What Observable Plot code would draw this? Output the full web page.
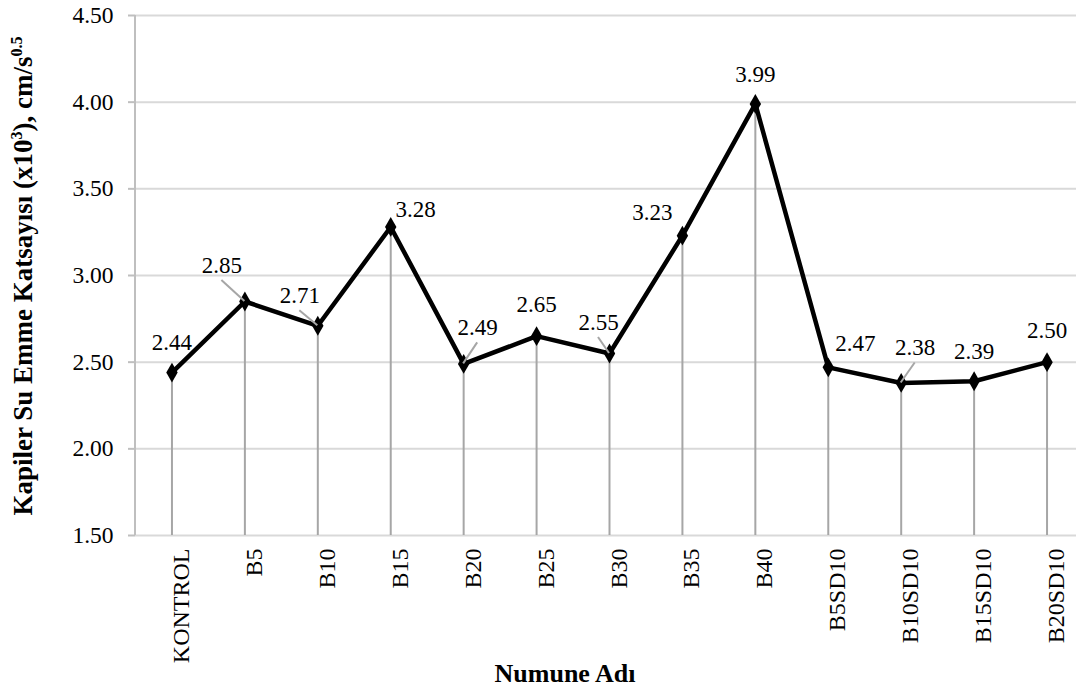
<!DOCTYPE html>
<html>
<head>
<meta charset="utf-8">
<script src="https://cdn.jsdelivr.net/npm/d3@7"></script>
<script src="https://cdn.jsdelivr.net/npm/@observablehq/plot@0.6"></script>
<style>
  html, body { margin: 0; padding: 0; background: #fff; }
</style>
</head>
<body>
<div id="chart"></div>
<script>
// Data
const categories = ["KONTROL", "B5", "B10", "B15", "B20", "B25", "B30", "B35", "B40", "B5SD10", "B10SD10", "B15SD10", "B20SD10"];
const values = [2.44, 2.85, 2.71, 3.28, 2.49, 2.65, 2.55, 3.23, 3.99, 2.47, 2.38, 2.39, 2.50];
const yTicks = [1.5, 2.0, 2.5, 3.0, 3.5, 4.0, 4.5];

// Label placement (annotation styling, in pixels relative to each point)
const labelDx = [0, -23, -18, 25, 14, 0, -11, -30, 0, 27, 14, 0, 0];
const labelDy = [-30, -36, -30, -17, -36, -32, -31, -23, -29, -24, -35, -30, -32];
const hasLeader = [false, true, true, false, true, false, true, false, false, false, true, false, false];

const data = categories.map((c, i) => ({cat: c, value: values[i], i}));

const font = "'Liberation Serif', 'Times New Roman', serif";

const plot = Plot.plot({
  width: 1076,
  height: 690,
  marginLeft: 135,
  marginRight: 0,
  marginTop: 15,
  marginBottom: 155,
  style: {fontFamily: font, fontSize: "24px", background: "#fff", color: "#000"},
  x: {type: "point", domain: categories, range: [135, 1083], padding: 0.5, round: false, axis: null},
  y: {domain: [1.5, 4.5], axis: null},
  marks: [
    Plot.ruleY(yTicks, {stroke: "#d9d9d9", strokeWidth: 2}),
    Plot.ruleX(data, {x: "cat", y1: 1.5, y2: "value", stroke: "#a6a6a6", strokeWidth: 2}),
    Plot.lineY(data, {x: "cat", y: "value", stroke: "#000", strokeWidth: 4.5, strokeLinejoin: "miter"}),
    Plot.dot(data, {x: "cat", y: "value", symbol: "diamond", r: 6, fill: "#000", stroke: null}),
    Plot.text(data, {x: "cat", y: "value", text: d => d.value.toFixed(2), fontSize: 23, fill: "#000", className: "vlabel"}),
    Plot.axisY({ticks: yTicks, tickFormat: d => d.toFixed(2), tickSize: 7, tickPadding: 15, stroke: "#bfbfbf", strokeWidth: 2, fontSize: 23.5, label: null}),
    Plot.axisX({rotate: -90, tickSize: 0, tickPadding: 13, textAnchor: "end", fontSize: 24, label: null})
  ]
});

document.getElementById("chart").appendChild(plot);

const svg = d3.select(plot);
const xs = plot.scale("x");
const ys = plot.scale("y");

// Y axis line
svg.append("line")
  .attr("x1", 135).attr("x2", 135)
  .attr("y1", ys.apply(4.5)).attr("y2", ys.apply(1.5))
  .attr("stroke", "#bfbfbf").attr("stroke-width", 2);

// Offset value labels and draw leader lines
svg.selectAll(".vlabel text").each(function(_, k) {
  const el = d3.select(this);
  const t = el.attr("transform") || "";
  el.attr("transform", `translate(${labelDx[k]},${labelDy[k]}) ${t}`);
});
const leaderG = svg.insert("g", ".vlabel");
data.forEach((d, i) => {
  if (!hasLeader[i]) return;
  const px = xs.apply(d.cat), py = ys.apply(d.value);
  const lx = px + labelDx[i], ly = py + labelDy[i] + 15;
  leaderG.append("line")
    .attr("x1", lx).attr("y1", ly).attr("x2", px).attr("y2", py)
    .attr("stroke", "#a6a6a6").attr("stroke-width", 2);
});

// X axis title
svg.append("text")
  .attr("x", 565).attr("y", 682)
  .attr("text-anchor", "middle")
  .attr("font-family", font).attr("font-weight", "bold").attr("font-size", 26)
  .text("Numune Adı");

// Y axis title with superscripts
const yt = svg.append("text")
  .attr("transform", "translate(32,276) rotate(-90)")
  .attr("text-anchor", "middle")
  .attr("font-family", font).attr("font-weight", "bold").attr("font-size", 27);
yt.append("tspan").text("Kapiler Su Emme Katsayısı (x10");
yt.append("tspan").attr("font-size", 16).attr("dy", -10).text("3");
yt.append("tspan").attr("dy", 10).text("), cm/s");
yt.append("tspan").attr("font-size", 16).attr("dy", -10).text("0.5");
</script>
</body>
</html>
